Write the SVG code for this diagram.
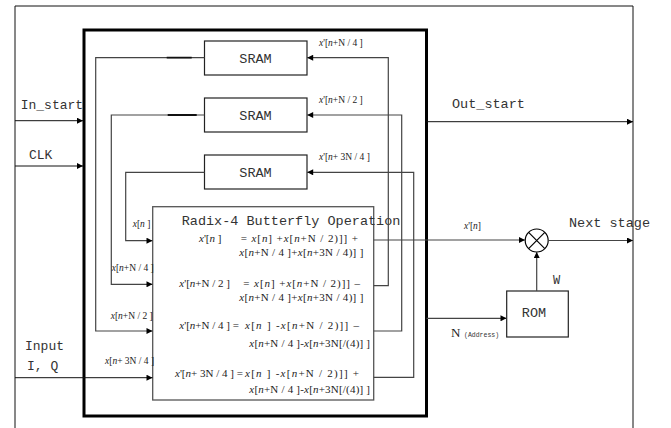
<svg xmlns="http://www.w3.org/2000/svg" width="671" height="428" viewBox="0 0 671 428">
<style>
.mono{font-family:"Liberation Mono","Courier New",monospace;fill:#333;}
.ser{font-family:"Liberation Serif","Times New Roman",serif;fill:#222;}
.it{font-style:italic;}
.ln{fill:none;stroke:#444;stroke-width:1.2;}
.thin{fill:none;stroke:#111;stroke-width:1;}
.box{fill:#fff;stroke:#222;stroke-width:1.2;}
</style>
<defs>
<marker id="ah" viewBox="0 0 10 10" refX="10" refY="5" markerWidth="8" markerHeight="6" markerUnits="userSpaceOnUse" orient="auto">
<path d="M0,0 L10,5 L0,10 z" fill="#000"/>
</marker>
</defs>
<rect width="671" height="428" fill="#fff"/>
<g id="frame">
<path d="M15,428 V6 H633 V428" class="thin"/>
</g>
<g id="core">
<rect x="84" y="30" width="342.5" height="386" fill="none" stroke="#000" stroke-width="3"/>
</g>
<g id="sram1">
<rect x="204.5" y="41" width="102.5" height="34" class="box"/>
<text x="255.5" y="62.5" class="mono" font-size="13.5" text-anchor="middle">SRAM</text>
</g>
<g id="sram2">
<rect x="204.5" y="98" width="102.5" height="34" class="box"/>
<text x="255.5" y="119.5" class="mono" font-size="13.5" text-anchor="middle">SRAM</text>
</g>
<g id="sram3">
<rect x="204.5" y="155" width="102.5" height="34" class="box"/>
<text x="255.5" y="176.5" class="mono" font-size="13.5" text-anchor="middle">SRAM</text>
</g>
<g id="butterfly">
<rect x="152.7" y="206.7" width="221" height="193.3" fill="#fff" stroke="#555" stroke-width="1.3"/>
<text x="181.7" y="224.5" class="mono" font-size="13.5">Radix-4 Butterfly Operation</text>
<g class="ser" font-size="11">
<text x="199" y="241.7"><tspan class="it">x</tspan>'[<tspan class="it">n</tspan> ]</text>
<text x="240.7" y="241.7" textLength="117.3" lengthAdjust="spacing">= <tspan class="it">x</tspan>[<tspan class="it">n</tspan>] +<tspan class="it">x</tspan>[<tspan class="it">n</tspan>+N / 2)]]   +</text>
<text x="239.3" y="255.5" textLength="124" lengthAdjust="spacing"><tspan class="it">x</tspan>[<tspan class="it">n</tspan>+N / 4 ]+<tspan class="it">x</tspan>[<tspan class="it">n</tspan>+3N / 4)] ]</text>
<text x="179.3" y="286.7"><tspan class="it">x</tspan>'[<tspan class="it">n</tspan>+N / 2 ]</text>
<text x="243.3" y="286.7" textLength="116.7" lengthAdjust="spacing">= <tspan class="it">x</tspan>[<tspan class="it">n</tspan>] +<tspan class="it">x</tspan>[<tspan class="it">n</tspan>+N / 2)]]   –</text>
<text x="239.3" y="300.7" textLength="124" lengthAdjust="spacing"><tspan class="it">x</tspan>[<tspan class="it">n</tspan>+N / 4 ]+<tspan class="it">x</tspan>[<tspan class="it">n</tspan>+3N / 4)] ]</text>
<text x="179.3" y="329"><tspan class="it">x</tspan>'[<tspan class="it">n</tspan>+N / 4 ] =</text>
<text x="245" y="329" textLength="114" lengthAdjust="spacing"><tspan class="it">x</tspan>[<tspan class="it">n</tspan> ] -<tspan class="it">x</tspan>[<tspan class="it">n</tspan>+N / 2)]]      –</text>
<text x="249.3" y="347" textLength="120.7" lengthAdjust="spacing"><tspan class="it">x</tspan>[<tspan class="it">n</tspan>+N / 4 ]-<tspan class="it">x</tspan>[<tspan class="it">n</tspan>+3N[/(4)] ]</text>
<text x="175" y="376.5"><tspan class="it">x</tspan>'[<tspan class="it">n</tspan>+ 3N / 4 ] =</text>
<text x="245" y="376.5" textLength="114" lengthAdjust="spacing"><tspan class="it">x</tspan>[<tspan class="it">n</tspan> ] -<tspan class="it">x</tspan>[<tspan class="it">n</tspan>+N / 2)]]      +</text>
<text x="249.3" y="393" textLength="120.7" lengthAdjust="spacing"><tspan class="it">x</tspan>[<tspan class="it">n</tspan>+N / 4 ]-<tspan class="it">x</tspan>[<tspan class="it">n</tspan>+3N[/(4)] ]</text>
</g>
</g>
<g id="multiplier">
<circle cx="536.7" cy="240.5" r="11.5" fill="#fff" stroke="#000" stroke-width="1.2"/>
<path d="M528.6,232.4 L544.8,248.6 M544.8,232.4 L528.6,248.6" stroke="#000" stroke-width="1.2"/>
</g>
<g id="rom">
<rect x="506.7" y="291" width="61.6" height="46" class="box"/>
<text x="534" y="317" class="mono" font-size="13.5" text-anchor="middle">ROM</text>
</g>
<g id="connectors">
<path d="M15,120.7 H83" class="thin" marker-end="url(#ah)"/>
<path d="M15,166 H83" class="thin" marker-end="url(#ah)"/>
<path d="M15,377.7 H152.5" class="thin" marker-end="url(#ah)"/>
<path d="M204.5,57.7 H95.7 V331 H152.5" class="ln" marker-end="url(#ah)"/>
<path d="M204.5,115 H111.3 V284.3 H152.5" class="ln" marker-end="url(#ah)"/>
<path d="M204.5,172.3 H125.7 V240.7 H152.5" class="ln" marker-end="url(#ah)"/>
<path d="M166.7,57.7 H191.7 M167.7,115 H196.7" stroke="#111" stroke-width="1.8"/>
<path d="M373.7,285.7 H388.3 V57.7 H307.2" class="ln" marker-end="url(#ah)"/>
<path d="M373.7,331 H401.7 V115 H307.2" class="ln" marker-end="url(#ah)"/>
<path d="M373.7,377.3 H413.7 V172.3 H307.2" class="ln" marker-end="url(#ah)"/>
<path d="M373.7,240 H525" class="ln" marker-end="url(#ah)"/>
<path d="M548.2,240.5 H633" class="ln" marker-end="url(#ah)"/>
<path d="M536.7,291 V252" class="ln" marker-end="url(#ah)"/>
<path d="M426.5,318.3 H506.5" class="ln" marker-end="url(#ah)"/>
<path d="M426.5,121.7 H633" class="thin" marker-end="url(#ah)"/>
</g>
<g id="labels">
<text x="20.7" y="109" class="mono" font-size="13">In_start</text>
<text x="29" y="159" class="mono" font-size="13">CLK</text>
<text x="25" y="350" class="mono" font-size="13">Input</text>
<text x="27" y="369.5" class="mono" font-size="13">I, Q</text>
<text x="452" y="108" class="mono" font-size="13.5">Out_start</text>
<text x="569" y="226.7" class="mono" font-size="13.5">Next stage</text>
<text x="553" y="284" class="mono" font-size="12">W</text>
<text x="451" y="337" class="ser" font-size="13">N</text>
<text x="464" y="336.5" class="mono" font-size="6.5">(Address)</text>
<g class="ser" font-size="9.5">
<text x="319" y="45.5"><tspan class="it">x</tspan>'[<tspan class="it">n</tspan>+N / 4 ]</text>
<text x="319" y="102.5"><tspan class="it">x</tspan>'[<tspan class="it">n</tspan>+N / 2 ]</text>
<text x="319" y="159.5"><tspan class="it">x</tspan>'[<tspan class="it">n</tspan>+ 3N / 4 ]</text>
<text x="464" y="229"><tspan class="it">x</tspan>'[<tspan class="it">n</tspan>]</text>
<text x="132.7" y="227"><tspan class="it">x</tspan>[<tspan class="it">n</tspan> ]</text>
<text x="111.7" y="271"><tspan class="it">x</tspan>[<tspan class="it">n</tspan>+N / 4 ]</text>
<text x="110.7" y="318.5"><tspan class="it">x</tspan>[<tspan class="it">n</tspan>+N / 2 ]</text>
<text x="105" y="364"><tspan class="it">x</tspan>[<tspan class="it">n</tspan>+ 3N / 4 ]</text>
</g>
</g>
</svg>
